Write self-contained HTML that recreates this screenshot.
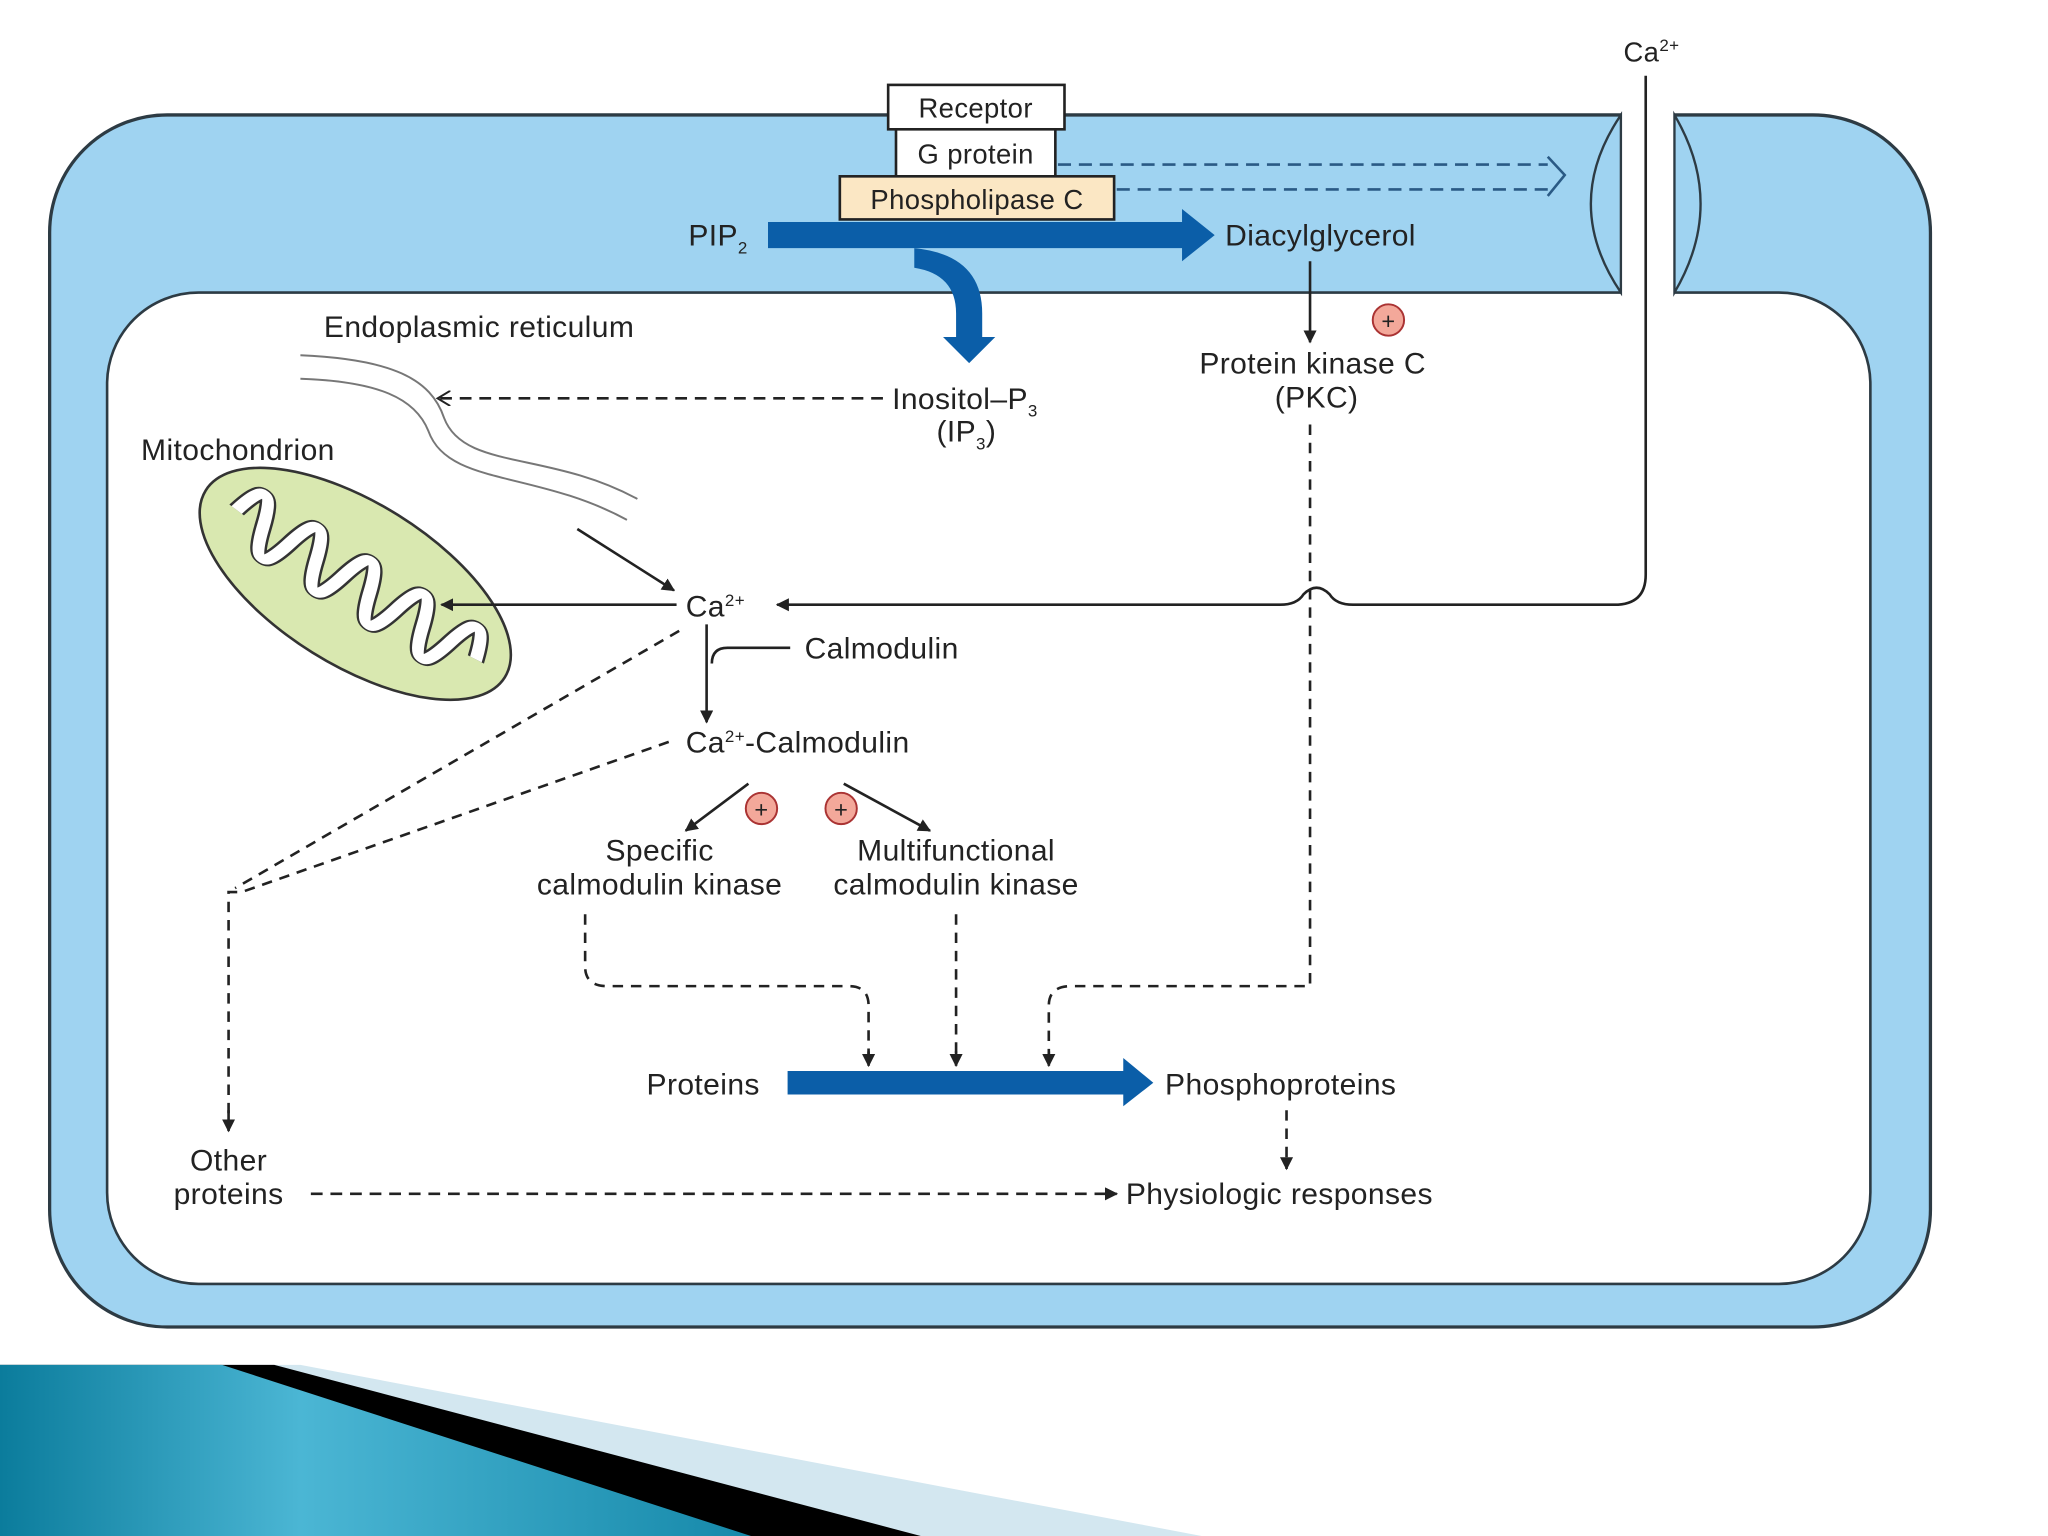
<!DOCTYPE html>
<html><head><meta charset="utf-8"><style>
html,body{margin:0;padding:0;background:#fff;width:2048px;height:1536px;overflow:hidden}
svg{display:block}
text{font-family:"Liberation Sans",sans-serif;font-size:23px;fill:#222;letter-spacing:0.3px}
</style></head><body>
<svg width="2048" height="1536" viewBox="0 0 1568 1176" xmlns="http://www.w3.org/2000/svg">
<defs>
<marker id="a" markerWidth="10" markerHeight="10" refX="9" refY="5" orient="auto" markerUnits="userSpaceOnUse"><path d="M0,0 L10,5 L0,10 Z" fill="#222"/></marker>
<marker id="o" markerWidth="12" markerHeight="12" refX="10" refY="6" orient="auto" markerUnits="userSpaceOnUse"><path d="M0,0 L10,6 L0,12" fill="none" stroke="#222" stroke-width="1.5"/></marker>
<linearGradient id="tg" x1="0" x2="1" y1="0" y2="0"><stop offset="0" stop-color="#0b7c9c"/><stop offset="0.4" stop-color="#4bb6d4"/><stop offset="1" stop-color="#1689aa"/></linearGradient>
</defs>
<rect x="38" y="88" width="1440" height="928" rx="90" fill="#9fd3f1" stroke="#2d3b44" stroke-width="2.5"/>
<rect x="82" y="224" width="1350" height="759" rx="70" fill="#fff" stroke="#2d3b44" stroke-width="2"/>
<rect x="1241" y="80" width="41" height="150" fill="#fff"/>
<path d="M1241,88 Q1195,156 1241,224 Z" fill="#9fd3f1" stroke="#2d3b44" stroke-width="1.8"/>
<path d="M1282,88 Q1322,156 1282,224 Z" fill="#9fd3f1" stroke="#2d3b44" stroke-width="1.8"/>
<text x="1243" y="47" style="font-size:21px">Ca<tspan dy="-8" style="font-size:13px">2+</tspan></text>
<path d="M1260,58 L1260,440 Q1260,463 1236,463 L1036,463 Q1023,463 1018,455 Q1008,445 998,455 Q993,463 980,463 L595,463" fill="none" stroke="#222" stroke-width="2" marker-end="url(#a)"/>
<rect x="680" y="65" width="135" height="34" fill="#fff" stroke="#222" stroke-width="2"/>
<text x="747" y="90" text-anchor="middle" style="font-size:21px">Receptor</text>
<rect x="686" y="99" width="122" height="36" fill="#fff" stroke="#222" stroke-width="2"/>
<text x="747" y="125" text-anchor="middle" style="font-size:21px">G protein</text>
<rect x="643" y="135" width="210" height="33" fill="#fbe7c4" stroke="#222" stroke-width="2"/>
<text x="748" y="160" text-anchor="middle" style="font-size:21px">Phospholipase C</text>
<path d="M810,126 L1185,126 M855,145 L1185,145" stroke="#2a5a85" stroke-width="2" stroke-dasharray="10,6"/>
<path d="M1185,120 L1198,134 L1185,150" fill="none" stroke="#2a5a85" stroke-width="2"/>
<text x="527" y="188">PIP<tspan dy="6" style="font-size:13px">2</tspan></text>
<path d="M588,170 L905,170 L905,160 L930,180 L905,200 L905,190 L588,190 Z" fill="#0b5ea8"/>
<path d="M700,190 Q752,195 752,240 L752,258 L762,258 L742,278 L722,258 L732,258 L732,240 Q732,210 700,205 Z" fill="#0b5ea8"/>
<text x="938" y="188">Diacylglycerol</text>
<line x1="1003" y1="200" x2="1003" y2="262" stroke="#222" stroke-width="2" marker-end="url(#a)"/>
<circle cx="1063" cy="245" r="12" fill="#f3a89a" stroke="#a33" stroke-width="1.5"/><text x="1063" y="252" text-anchor="middle" style="font-size:18px">+</text>
<text x="1005" y="286" text-anchor="middle">Protein kinase C</text>
<text x="1008" y="312" text-anchor="middle">(PKC)</text>
<text x="683" y="313">Inositol–P<tspan dy="6" style="font-size:13px">3</tspan></text>
<text x="717" y="338">(IP<tspan dy="6" style="font-size:13px">3</tspan><tspan dy="-6">)</tspan></text>
<line x1="676" y1="305" x2="335" y2="305" stroke="#222" stroke-width="2" stroke-dasharray="9,6" marker-end="url(#o)"/>
<text x="248" y="258">Endoplasmic reticulum</text>
<path d="M230,272 C300,275 330,290 340,320 C355,360 420,345 488,382" fill="none" stroke="#777" stroke-width="1.5"/>
<path d="M230,290 C290,292 318,305 328,330 C343,372 410,360 480,398" fill="none" stroke="#777" stroke-width="1.5"/>
<line x1="442" y1="405" x2="516" y2="452" stroke="#222" stroke-width="2" marker-end="url(#a)"/>
<text x="108" y="352">Mitochondrion</text>
<g transform="rotate(32 272 447)">
<ellipse cx="272" cy="447" rx="135" ry="62" fill="#d9e8b0" stroke="#333" stroke-width="2"/>
<path d="M165,447 q12,-80 24,0 q12,80 24,0 q12,-80 24,0 q12,80 24,0 q12,-80 24,0 q12,80 24,0 q12,-80 24,0 q12,80 24,0 q12,-80 24,0" fill="none" stroke="#333" stroke-width="14" transform="translate(0,0) scale(1,0.55) translate(0,366)"/>
<path d="M165,447 q12,-80 24,0 q12,80 24,0 q12,-80 24,0 q12,80 24,0 q12,-80 24,0 q12,80 24,0 q12,-80 24,0 q12,80 24,0 q12,-80 24,0" fill="none" stroke="#fff" stroke-width="10" transform="translate(0,0) scale(1,0.55) translate(0,366)"/>
</g>
<text x="525" y="472">Ca<tspan dy="-8" style="font-size:13px">2+</tspan></text>
<line x1="518" y1="463" x2="338" y2="463" stroke="#222" stroke-width="2" marker-end="url(#a)"/>
<line x1="541" y1="478" x2="541" y2="553" stroke="#222" stroke-width="2" marker-end="url(#a)"/>
<path d="M605,496 L557,496 Q545,496 545,508" fill="none" stroke="#222" stroke-width="2"/>
<text x="616" y="504">Calmodulin</text>
<text x="525" y="576">Ca<tspan dy="-8" style="font-size:13px">2+</tspan><tspan dy="8">-Calmodulin</tspan></text>
<path d="M520,483 L180,680 M512,568 L185,683 L175,683 L175,862" fill="none" stroke="#222" stroke-width="2" stroke-dasharray="8,6"/>
<line x1="175" y1="850" x2="175" y2="866" stroke="#222" stroke-width="2" marker-end="url(#a)"/>
<line x1="573" y1="600" x2="525" y2="636" stroke="#222" stroke-width="2" marker-end="url(#a)"/>
<line x1="646" y1="600" x2="712" y2="636" stroke="#222" stroke-width="2" marker-end="url(#a)"/>
<circle cx="583" cy="619" r="12" fill="#f3a89a" stroke="#a33" stroke-width="1.5"/><text x="583" y="626" text-anchor="middle" style="font-size:18px">+</text>
<circle cx="644" cy="619" r="12" fill="#f3a89a" stroke="#a33" stroke-width="1.5"/><text x="644" y="626" text-anchor="middle" style="font-size:18px">+</text>
<text x="505" y="659" text-anchor="middle">Specific</text>
<text x="505" y="685" text-anchor="middle">calmodulin kinase</text>
<text x="732" y="659" text-anchor="middle">Multifunctional</text>
<text x="732" y="685" text-anchor="middle">calmodulin kinase</text>
<path d="M448,700 L448,740 Q448,755 465,755 L650,755 Q665,755 665,770 L665,810" fill="none" stroke="#222" stroke-width="2" stroke-dasharray="8,6"/>
<path d="M732,700 L732,810" fill="none" stroke="#222" stroke-width="2" stroke-dasharray="8,6"/>
<path d="M1003,325 L1003,755 L820,755 Q803,755 803,770 L803,810" fill="none" stroke="#222" stroke-width="2" stroke-dasharray="8,6"/>
<line x1="665" y1="805" x2="665" y2="816" stroke="#222" stroke-width="2" marker-end="url(#a)"/>
<line x1="732" y1="805" x2="732" y2="816" stroke="#222" stroke-width="2" marker-end="url(#a)"/>
<line x1="803" y1="805" x2="803" y2="816" stroke="#222" stroke-width="2" marker-end="url(#a)"/>
<text x="495" y="838">Proteins</text>
<path d="M603,820 L860,820 L860,810 L883,829 L860,847 L860,838 L603,838 Z" fill="#0b5ea8"/>
<text x="892" y="838">Phosphoproteins</text>
<path d="M985,850 L985,895" fill="none" stroke="#222" stroke-width="2" stroke-dasharray="8,6" marker-end="url(#a)"/>
<text x="175" y="896" text-anchor="middle">Other</text>
<text x="175" y="922" text-anchor="middle">proteins</text>
<line x1="238" y1="914" x2="855" y2="914" stroke="#222" stroke-width="2" stroke-dasharray="9,6" marker-end="url(#a)"/>
<text x="862" y="922">Physiologic responses</text>
<polygon points="0,1045 230,1045 920,1176 0,1176" fill="#d3e7f0"/>
<polygon points="0,1045 210,1045 705,1176 0,1176" fill="#000"/>
<polygon points="0,1045 170,1045 575,1176 0,1176" fill="url(#tg)"/>
</svg>
</body></html>
